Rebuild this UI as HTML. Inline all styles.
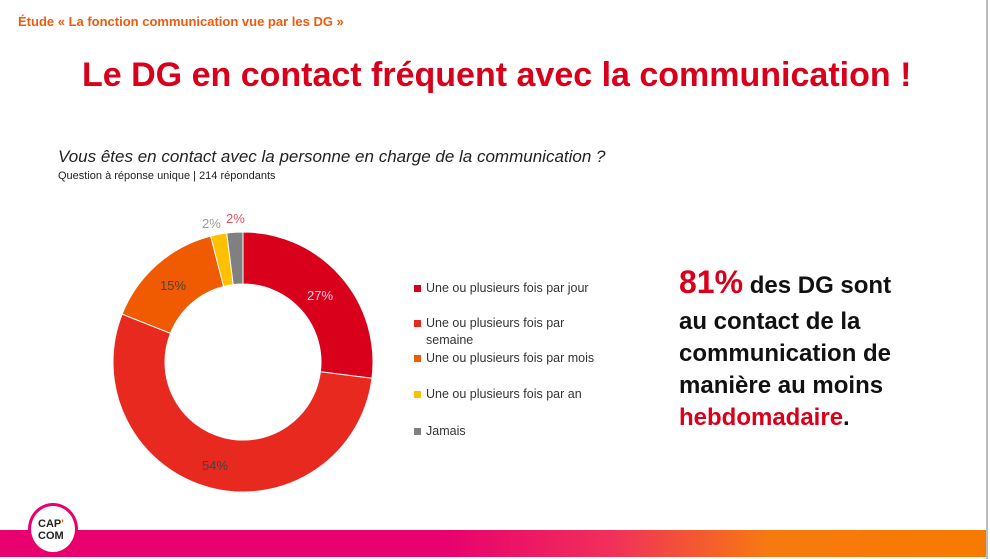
<!DOCTYPE html>
<html><head><meta charset="utf-8"><style>
body{margin:0;width:990px;height:559px;overflow:hidden;background:#fff;font-family:"Liberation Sans",sans-serif;position:relative}
.a{position:absolute;white-space:nowrap}
.leg{position:absolute;left:414px;font-size:12.5px;color:#333;line-height:17px;padding-left:12px}
.leg i{position:absolute;left:0;top:5px;width:7px;height:7px}
.big{position:absolute;left:679px;font-weight:bold;font-size:24px;color:#111;line-height:32px}
</style></head><body>
<div class="a" style="left:18px;top:14px;font-size:13px;font-weight:bold;color:#ee5a0e">Étude « La fonction communication vue par les DG »</div>
<div class="a" style="left:82px;top:56px;font-size:34px;font-weight:bold;color:#d9001b">Le DG en contact fréquent avec la communication !</div>
<div class="a" style="left:58px;top:147px;font-size:17px;font-style:italic;color:#222">Vous êtes en contact avec la personne en charge de la communication ?</div>
<div class="a" style="left:58px;top:170px;font-size:11px;color:#222">Question à réponse unique | 214 répondants</div>
<svg id="s" width="990" height="559" style="position:absolute;left:0;top:0"></svg>
<div class="leg" style="top:280px"><i style="background:#d9001b"></i>Une ou plusieurs fois par jour</div>
<div class="leg" style="top:315px"><i style="background:#e8291f"></i>Une ou plusieurs fois par<br>semaine</div>
<div class="leg" style="top:350px"><i style="background:#f05a00"></i>Une ou plusieurs fois par mois</div>
<div class="leg" style="top:386px"><i style="background:#ffc000"></i>Une ou plusieurs fois par an</div>
<div class="leg" style="top:423px"><i style="background:#808080"></i>Jamais</div>
<div class="big" style="top:266px"><span style="color:#d9001b;font-size:32px">81%</span> des DG sont</div>
<div class="big" style="top:306px">au contact de la</div>
<div class="big" style="top:338px">communication de</div>
<div class="big" style="top:370px">manière au moins</div>
<div class="big" style="top:402px"><span style="color:#d9001b">hebdomadaire</span>.</div>
<div style="position:absolute;left:986px;top:0;width:2px;height:559px;background:#bbb"></div>
<div style="position:absolute;left:0;top:530px;width:986px;height:27px;background:linear-gradient(90deg,#e8006e 0%,#e8006e 45%,#f0305a 62%,#f77a10 78%,#f77a00 100%)"></div>
<div style="position:absolute;left:28px;top:503px;width:50px;height:52px;border-radius:50%;background:#fff;border:3px solid #e8006e;box-sizing:border-box"></div>
<div class="a" style="left:38px;top:518px;font-size:11px;font-weight:bold;line-height:12px;color:#222">CAP<span style="color:#f05a00">'</span><br>COM</div>
<script>
var s=document.getElementById('s'),cx=243,cy=362,R=130,r=78,d=[[27,'#d9001b'],[54,'#e8291f'],[15,'#f05a00'],[2,'#ffc000'],[2,'#808080']],a=0,h='';
function p(ang,rad){var t=(ang-90)*Math.PI/180;return (cx+rad*Math.cos(t)).toFixed(2)+' '+(cy+rad*Math.sin(t)).toFixed(2)}
d.forEach(function(x){var b=a+x[0]*3.6,l=(b-a)>180?1:0;h+='<path d="M'+p(a,R)+' A'+R+' '+R+' 0 '+l+' 1 '+p(b,R)+' L'+p(b,r)+' A'+r+' '+r+' 0 '+l+' 0 '+p(a,r)+'Z" fill="'+x[1]+'" stroke="#fff" stroke-width="1"/>';a=b});
h+='<g font-family="Liberation Sans,sans-serif" font-size="13"><text x="307" y="300" fill="#fce">27%</text><text x="160" y="290" fill="#444">15%</text><text x="202" y="470" fill="#444">54%</text><text x="202" y="228" fill="#999">2%</text><text x="226" y="223" fill="#e05060">2%</text></g>';
s.innerHTML=h;
</script>
</body></html>
